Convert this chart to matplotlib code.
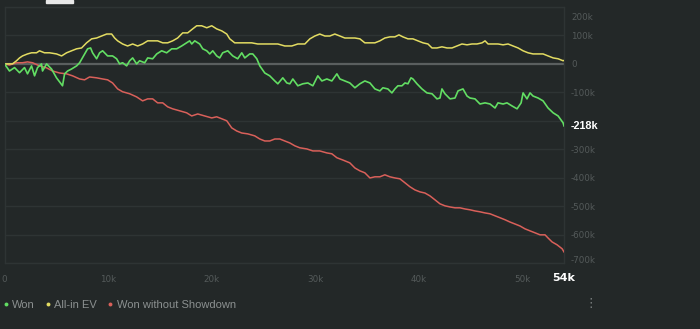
import matplotlib
matplotlib.use("Agg")
import matplotlib.pyplot as plt
import matplotlib.transforms as mtransforms
from matplotlib.lines import Line2D
from matplotlib.patches import Rectangle

# hands played (thousands) and cumulative result (thousands) per series
won_hands = [0, 0.48, 0.97, 1.45, 1.93, 2.22, 2.61, 2.90, 3.19, 3.57, 3.67, 4.06, 4.54, 5.02, 5.60,
             5.80, 6.09, 6.47, 6.96, 7.25, 7.73, 8.02, 8.31, 8.50, 8.89, 9.18, 9.47, 9.95, 10.43,
             10.82, 11.11, 11.40, 11.79, 12.08, 12.37, 12.75, 13.04, 13.53, 13.82, 14.30, 14.69,
             15.17, 15.65, 16.14, 16.62, 17.10, 17.58, 17.87, 18.07, 18.36, 18.84, 19.13, 19.52,
             19.81, 20.10, 20.48, 20.77, 21.06, 21.55, 22.03, 22.51, 22.90, 23.19, 23.67, 23.96,
             24.35, 24.64, 25.12, 25.60, 26.09, 26.38, 26.86, 27.25, 27.54, 27.83, 28.31, 28.79,
             29.28, 29.76, 30.24, 30.63, 31.11, 31.59, 32.08, 32.37, 32.85, 33.33, 33.82, 34.30,
             34.78, 35.27, 35.75, 36.23, 36.52, 37.00, 37.39, 37.68, 37.97, 38.36, 38.65, 38.94,
             39.23, 39.42, 39.81, 40.29, 40.77, 41.26, 41.74, 42.03, 42.22, 42.51, 43.00, 43.48,
             43.77, 44.25, 44.64, 44.93, 45.41, 45.89, 46.38, 46.86, 47.34, 47.63, 48.12, 48.50,
             48.99, 49.47, 49.86, 50.05, 50.43, 50.72, 51.01, 51.50, 51.98, 52.46, 52.95, 53.43,
             53.91, 54.0]
won = [0, -25, -13, -31, -13, -35, -7, -42, -13, 0, -25, 0, -18, -49, -77,
       -35, -25, -18, -7, 4, 35, 53, 56, 39, 18, 39, 46, 28, 28,
       18, 0, 4, -7, 11, 21, 0, 11, 4, 21, 18, 35,
       46, 39, 53, 53, 63, 74, 81, 70, 81, 70, 53, 46,
       35, 46, 28, 21, 39, 46, 28, 18, 39, 21, 35, 35,
       18, -7, -32, -42, -60, -70, -49, -67, -70, -53, -77, -70,
       -67, -77, -42, -60, -53, -60, -35, -53, -60, -67, -84, -70,
       -60, -67, -88, -95, -84, -88, -102, -88, -77, -77, -67, -70,
       -49, -53, -70, -88, -102, -105, -123, -120, -88, -105, -123, -120,
       -95, -88, -113, -120, -123, -141, -137, -141, -155, -137, -141, -137,
       -148, -158, -137, -102, -123, -102, -113, -120, -130, -155, -172, -183,
       -207, -218]

ev_hands = [0, 0.77, 1.16, 1.45, 1.74, 2.22, 2.61, 3.09, 3.38, 3.86, 4.35, 5.02, 5.51, 5.99,
            6.47, 6.96, 7.44, 7.92, 8.41, 8.89, 9.37, 9.86, 10.34, 10.63, 10.92, 11.40, 11.88,
            12.37, 12.85, 13.33, 13.82, 14.30, 14.78, 15.27, 15.75, 16.23, 16.71, 17.20, 17.68,
            18.16, 18.55, 19.03, 19.52, 20.00, 20.48, 20.97, 21.45, 21.74, 22.22, 22.71, 23.19,
            23.86, 24.44, 25.12, 25.80, 26.38, 27.05, 27.73, 28.31, 28.99, 29.47, 29.95, 30.43,
            30.92, 31.40, 31.88, 32.37, 32.85, 33.33, 33.82, 34.30, 34.78, 35.27, 35.75, 36.23,
            36.71, 37.20, 37.68, 38.07, 38.45, 38.94, 39.42, 39.90, 40.39, 40.87, 41.26, 41.74,
            42.22, 42.71, 43.19, 43.67, 44.15, 44.64, 45.12, 45.60, 46.09, 46.38, 46.67, 47.15,
            47.63, 48.12, 48.60, 49.08, 49.57, 50.05, 50.53, 51.01, 51.50, 51.98, 52.46, 52.95,
            53.43, 53.91, 54.0]
allin_ev = [0, 0, 11, 21, 28, 35, 39, 39, 46, 39, 39, 35, 28, 39,
            46, 53, 56, 74, 88, 91, 98, 105, 105, 91, 81, 70, 63,
            70, 63, 70, 81, 81, 81, 74, 74, 81, 91, 109, 109,
            123, 134, 134, 127, 134, 123, 116, 105, 88, 74, 74, 74,
            74, 70, 70, 70, 70, 63, 63, 70, 70, 88, 98, 105,
            98, 98, 105, 98, 91, 91, 91, 88, 74, 74, 74, 81,
            91, 95, 95, 102, 95, 88, 88, 81, 74, 70, 56, 56,
            60, 56, 56, 63, 70, 67, 70, 70, 74, 81, 70, 70,
            70, 67, 70, 63, 56, 46, 39, 35, 35, 35, 28, 21,
            18, 11, 12]

nsd_hands = [0, 0.48, 1.16, 1.74, 2.22, 2.71, 3.38, 4.06, 4.64, 5.31, 5.99, 6.57, 7.25, 7.73,
             8.21, 8.89, 9.47, 9.95, 10.43, 10.92, 11.40, 12.08, 12.75, 13.33, 13.82, 14.30,
             14.78, 15.27, 15.75, 16.23, 16.91, 17.58, 18.07, 18.65, 19.32, 20.00, 20.48, 20.97,
             21.45, 21.93, 22.42, 22.90, 23.48, 24.15, 24.64, 25.12, 25.60, 26.09, 26.57, 27.05,
             27.54, 28.02, 28.50, 29.18, 29.76, 30.43, 31.11, 31.59, 32.08, 32.66, 33.33, 33.82,
             34.30, 34.78, 35.27, 35.75, 36.23, 36.71, 37.20, 37.68, 38.16, 38.65, 39.13, 39.61,
             40.10, 40.58, 41.06, 41.55, 42.03, 42.51, 43.00, 43.48, 43.96, 44.44, 44.93, 45.41,
             45.89, 46.38, 46.86, 47.34, 47.83, 48.31, 48.79, 49.28, 49.76, 50.24, 50.72, 51.21,
             51.69, 52.17, 52.46, 52.85, 53.33, 53.82, 54.0]
no_showdown = [0, -4, 4, 4, 7, 4, -7, -14, -25, -32, -35, -42, -53, -56,
               -46, -49, -53, -56, -67, -88, -98, -105, -116, -130, -123, -123,
               -137, -137, -151, -158, -165, -172, -183, -176, -183, -190, -186, -193,
               -200, -225, -236, -243, -246, -253, -264, -271, -271, -264, -264, -271,
               -278, -288, -295, -299, -306, -306, -313, -316, -330, -338, -348, -366,
               -376, -383, -401, -397, -397, -390, -397, -401, -404, -418, -432, -443,
               -450, -454, -464, -478, -492, -499, -503, -506, -506, -510, -513, -517,
               -520, -524, -527, -534, -541, -548, -556, -563, -570, -580, -587, -594,
               -601, -601, -612, -626, -636, -650, -661]

series_names = ["Won", "All-in EV", "Won without Showdown"]
series_colors = ["#62de63", "#e3dc62", "#d9605a"]

y_ticks = [200, 100, 0, -100, -200, -300, -400, -500, -600, -700]
x_ticks = [0, 10, 20, 30, 40, 50]
total_hands = 54

bg = "#232828"
grid_col = "#2e3434"
tick_col = "#545a5a"

fig = plt.figure(figsize=(7.0, 3.29), dpi=100, facecolor=bg)
ax = fig.add_axes([4.5 / 700, 1 - 263 / 329, 559.5 / 700, 256 / 329])
ax.set_facecolor(bg)
plt.rcParams['font.family'] = ['Liberation Sans', 'DejaVu Sans']

for sp in ax.spines.values():
    sp.set_color(grid_col)
    sp.set_linewidth(1)

ax.set_xlim(0, total_hands)
ax.set_ylim(-700, 200)

# horizontal grid + brighter zero line
for v in y_ticks:
    if v == 0:
        ax.axhline(v, color="#5a5f5f", lw=1.6, zorder=1)
    else:
        ax.axhline(v, color=grid_col, lw=1, zorder=1)

ax.plot(nsd_hands, no_showdown, color=series_colors[2], lw=1.1, zorder=3)
ax.plot(ev_hands, allin_ev, color=series_colors[1], lw=1.1, zorder=3)
ax.plot(won_hands, won, color=series_colors[0], lw=1.2, zorder=4)

# y axis on the right, k units
ax.yaxis.tick_right()
ax.set_yticks(y_ticks)
ax.set_yticklabels(["" if v == -200 else ("0" if v == 0 else f"{v}k") for v in y_ticks])
ax.tick_params(axis="y", length=0, pad=5, labelsize=6.3, labelcolor=tick_col)
ylabels = ax.get_yticklabels()
ylabels[0].set_transform(ylabels[0].get_transform() +
                         mtransforms.ScaledTranslation(0, -6.5 / 72, fig.dpi_scale_trans))
ylabels[-1].set_transform(ylabels[-1].get_transform() +
                          mtransforms.ScaledTranslation(0, 2.2 / 72, fig.dpi_scale_trans))

ax.set_xticks(x_ticks + [total_hands])
ax.set_xticklabels(["0" if v == 0 else f"{v}k" for v in x_ticks] + [f"{total_hands}k"])
ax.tick_params(axis="x", length=0, pad=8.5, labelsize=6.3, labelcolor=tick_col)
last = ax.get_xticklabels()[-1]
last.set_color("white")
last.set_fontweight("bold")
last.set_fontsize(8)
last.set_transform(last.get_transform() +
                   mtransforms.ScaledTranslation(0, 1.0 / 72, fig.dpi_scale_trans))

# end-of-series value for Won
ax.annotate(f"{won[-1]}k", xy=(won_hands[-1], won[-1]), xytext=(5, 0),
            textcoords="offset points", ha="left", va="center",
            color="white", fontweight="bold", fontsize=7.8, annotation_clip=False)

handles = [Line2D([], [], ls="none", marker="o", ms=2.8, mec="none", mfc=c) for c in series_colors]
fig.legend(handles, series_names, loc="center left", bbox_to_anchor=(0.0, 1 - 305 / 329),
           frameon=False, ncol=3, fontsize=8, labelcolor="#8b9090",
           handlelength=0.5, handletextpad=0.3, columnspacing=0.95, borderpad=0.3,
           borderaxespad=0)

fig.text(591 / 700, 1 - 303 / 329, "\u22ee", color="#7d8282", fontsize=9,
         ha="center", va="center", family=["DejaVu Sans"])
fig.patches.append(Rectangle((46 / 700, 1 - 2.5 / 329), 27 / 700, 2.5 / 329,
                             transform=fig.transFigure, color="#e8e8e8", zorder=5))

fig.savefig("out.png", dpi=100, facecolor=bg)
